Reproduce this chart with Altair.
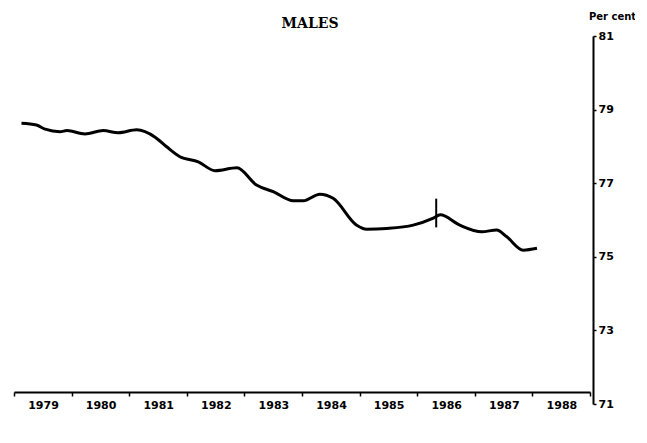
import altair as alt
import pandas as pd

years = [1979.13, 1979.39, 1979.54, 1979.80, 1979.92, 1980.23, 1980.55, 1980.81,
         1981.13, 1981.45, 1981.65, 1981.88, 1982.20, 1982.49, 1982.87, 1983.21,
         1983.50, 1983.85, 1984.02, 1984.31, 1984.54, 1984.95, 1985.12, 1985.47,
         1985.93, 1986.28, 1986.40, 1986.74, 1987.12, 1987.38, 1987.55, 1987.84, 1988.08]
values = [78.63, 78.58, 78.47, 78.40, 78.43, 78.34, 78.43, 78.37,
          78.45, 78.25, 77.99, 77.72, 77.58, 77.34, 77.42, 76.95,
          76.77, 76.52, 76.52, 76.70, 76.59, 75.86, 75.75, 75.77,
          75.86, 76.05, 76.14, 75.86, 75.68, 75.73, 75.55, 75.18, 75.23]
marker_year = [1986.33]
marker_low = [75.80]
marker_high = [76.58]
x_ticks = list(range(1979, 1990))
y_ticks = [71, 73, 75, 77, 79, 81]
title_text = ["MALES"]

df = pd.DataFrame({"year": years, "value": values})
mk = pd.DataFrame({"year": marker_year, "lo": marker_low, "hi": marker_high})
tt = pd.DataFrame({"t": title_text})

xscale = alt.Scale(domain=[1979, 1989], nice=False, zero=False)
yscale = alt.Scale(domain=[71, 81], nice=False, zero=False)

line = alt.Chart(df).mark_line(color="black", strokeWidth=3, interpolate="monotone").encode(
    x=alt.X("year:Q", scale=xscale, axis=alt.Axis(
        values=x_ticks, title=None, grid=False, offset=-12,
        domainColor="black", domainWidth=2, tickColor="black", tickWidth=1.5, tickSize=4,
        labelOffset=29, labelFlush=False, labelOverlap=False,
        labelExpr="datum.value == 1989 ? '' : toString(datum.value)",
        labelFont="DejaVu Sans", labelFontWeight="bold", labelFontSize=11, labelColor="black",
        labelPadding=3)),
    y=alt.Y("value:Q", scale=yscale, axis=alt.Axis(
        orient="right", values=y_ticks, grid=False, offset=3,
        title="Per cent", titleAngle=0, titleAlign="center", titleBaseline="alphabetic",
        titleX=19, titleY=-17, titleFont="DejaVu Sans", titleFontSize=10, titleFontWeight="bold",
        titleColor="black",
        domainColor="black", domainWidth=2, tickColor="black", tickWidth=1.5, tickSize=3,
        labelFont="DejaVu Sans", labelFontWeight="bold", labelFontSize=11, labelColor="black",
        labelPadding=2, labelBaseline="middle")),
)

rule = alt.Chart(mk).mark_rule(color="black", strokeWidth=2).encode(
    x=alt.X("year:Q", scale=xscale),
    y=alt.Y("lo:Q", scale=yscale),
    y2="hi:Q",
)

title = alt.Chart(tt).mark_text(font="DejaVu Serif", fontSize=14, fontWeight="bold",
                                color="black", align="center", baseline="alphabetic").encode(
    text="t:N", x=alt.value(296), y=alt.value(-8))

chart = (line + rule + title).properties(
    width=576, height=368,
    autosize=alt.AutoSizeParams(type="none"),
    padding={"left": 6, "top": 28, "right": 45, "bottom": 22},
).configure_view(stroke=None)

chart.save("out.html", embed_options={"renderer": "svg", "actions": False})
